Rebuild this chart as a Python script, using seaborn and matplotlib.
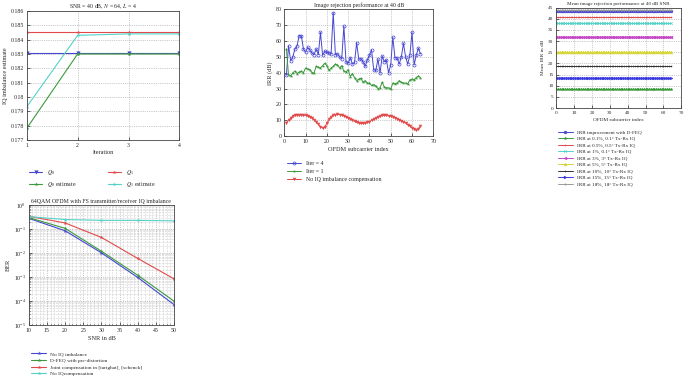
import matplotlib
matplotlib.use('Agg')
import matplotlib.pyplot as plt
import seaborn as sns
from matplotlib.ticker import MultipleLocator, FuncFormatter, LogLocator, NullFormatter

# ---- panel 1: IQ imbalance estimate per iteration
iterations = [1, 2, 3, 4]
q0 = [0.1831, 0.1831, 0.1831, 0.1831]
q1 = [0.1845, 0.1845, 0.1845, 0.1845]
q0_est = [0.1778, 0.1830, 0.1830, 0.1830]
q1_est = [0.1793, 0.1843, 0.1844, 0.1844]

# ---- panel 2: BER vs SNR
snr_db = [10, 20, 30, 40, 50]
ber_no_imb = [0.28, 0.085, 0.0103, 0.00097, 0.000072]
ber_dfeq = [0.30, 0.107, 0.012, 0.0012, 0.0001]
ber_joint = [0.34, 0.18, 0.045, 0.006, 0.00085]
ber_no_comp = [0.33, 0.25, 0.23, 0.23, 0.22]

# ---- panel 3: IRR per subcarrier at 40 dB
subcarrier = list(range(1, 65))
irr_iter4 = [38.5, 57, 47.5, 50, 55, 57, 63.5, 63.5, 55, 53,
             56, 54.5, 52.5, 51.5, 55, 51.5, 65.5, 51, 53.5, 53,
             52.5, 52, 78, 51.5, 52, 50, 49, 69.5, 47, 46,
             49.5, 45.5, 46.5, 59, 48.5, 49, 47, 44, 48, 51,
             54.5, 42, 41.5, 48.5, 40, 50.5, 47, 48, 40, 45,
             62.5, 49.5, 49.5, 45.5, 50, 58.5, 50, 45.5, 51, 65.5,
             45, 51, 55.5, 52]
irr_iter1 = [55, 38.5, 38, 40, 41, 39.5, 40.5, 41, 40, 43,
             42.5, 42, 40, 40, 44, 43.5, 43, 44.5, 46, 44.5,
             41.5, 43, 44, 45.5, 45, 43, 44.5, 41, 40.5, 42,
             37.5, 39.5, 37, 35, 36, 36.5, 34, 35, 33.5, 33.5,
             32, 32.5, 31.5, 30, 30.5, 34, 31, 30.5, 30.5, 29.5,
             33.5, 33, 33.5, 35, 34, 33.5, 33.5, 33, 35.5, 36,
             35.5, 37, 38, 37]
irr_no_comp = [8.5, 10, 11.5, 12.5, 13, 13.3, 13.4, 13.4, 13.2, 13,
               12.6, 12, 11.3, 10.3, 9, 7.5, 6, 5, 5.8, 8,
               10.5, 12.2, 13.2, 13.6, 13.7, 13.6, 13.3, 12.8, 12.2, 11.5,
               10.7, 10, 9.3, 8.7, 8.3, 8, 8, 8.2, 8.6, 9.2,
               10, 10.8, 11.6, 12.2, 12.7, 13, 13.1, 13, 12.8, 12.5,
               12.1, 11.6, 11, 10.4, 9.7, 9, 8.2, 7.3, 6.3, 5.3,
               4.4, 3.7, 4.5, 6.5]

# ---- panel 4: mean IRR per case at 40 dB
mean_idx = list(range(0, 65))
mean_labels = ['IRR improvement with D-FEQ',
               'IRR at 0.1%, 0.1° Tx-Rx IQ',
               'IRR at 0.5%, 0.5° Tx-Rx IQ',
               'IRR at 1%, 0.1° Tx-Rx IQ',
               'IRR at 3%, 3° Tx-Rx IQ',
               'IRR at 5%, 5° Tx-Rx IQ',
               'IRR at 10%, 10° Tx-Rx IQ',
               'IRR at 15%, 15° Tx-Rx IQ',
               'IRR at 18%, 18° Tx-Rx IQ']
mean_irr = [43.5, 8.5, 41, 38, 32, 25, 19, 13.5, 44]

BLUE, RED, GREEN, CYAN = '#4646d2', '#e04a4a', '#3c9a3c', '#52d2c8'
mean_colors = [BLUE, GREEN, RED, CYAN, '#c446c4', '#d6d63c', '#333333', '#3a3ae0', '#9a9a9a']
mean_markers = ['o', '*', '+', 'x', '<', '^', '+', '>', '.']

sns.set_style('ticks')
plt.rcParams['font.family'] = ['Liberation Serif', 'DejaVu Serif']
plt.rcParams['mathtext.fontset'] = 'stix'

fig = plt.figure(figsize=(6.85, 3.79), dpi=100)

def style_ax(ax, title, xlabel, ylabel, tsize=4.2, lsize=4.5, ksize=4.2):
    ax.set_title(title, fontsize=tsize, pad=1.5)
    ax.set_xlabel(xlabel, fontsize=lsize, labelpad=2)
    ax.set_ylabel(ylabel, fontsize=lsize, labelpad=2)
    ax.tick_params(labelsize=ksize, length=2, width=0.5, pad=2, direction='in')
    for s in ax.spines.values():
        s.set_linewidth(0.6)
        s.set_color('#444444')
    ax.grid(True, linestyle=':', linewidth=0.5, color='#999999')

lw = 0.8
ms = 3

# panel 1
ax1 = fig.add_axes([0.039, 0.631, 0.223, 0.340])
sns.lineplot(x=iterations, y=q0, ax=ax1, color=BLUE, marker='v', markersize=ms, linewidth=lw, markeredgewidth=0, label=r'$Q_0$')
sns.lineplot(x=iterations, y=q1, ax=ax1, color=RED, marker='*', markersize=ms, linewidth=lw, markeredgewidth=0, label=r'$Q_1$')
sns.lineplot(x=iterations, y=q0_est, ax=ax1, color=GREEN, marker='*', markersize=ms, linewidth=lw, markeredgewidth=0, label=r'$Q_0$ estimate')
sns.lineplot(x=iterations, y=q1_est, ax=ax1, color=CYAN, marker='*', markersize=ms, linewidth=lw, markeredgewidth=0, label=r'$Q_1$ estimate')
ax1.set_xlim(1, 4)
ax1.set_ylim(0.177, 0.186)
ax1.xaxis.set_major_locator(MultipleLocator(1))
ax1.yaxis.set_major_locator(MultipleLocator(0.001))
ax1.yaxis.set_major_formatter(FuncFormatter(lambda v, p: '%g' % round(v, 3)))
style_ax(ax1, r'SNR = 40 dB, $N$ = 64, $L$ = 4', 'Iteration', 'IQ imbalance estimate')
h, l = ax1.get_legend_handles_labels()
order = [0, 2, 1, 3]
ax1.legend([h[i] for i in order], [l[i] for i in order], loc='upper left', bbox_to_anchor=(0.0, -0.2),
           ncol=2, frameon=False, fontsize=4.2, columnspacing=5.3, handlelength=2.3,
           labelspacing=0.5, borderaxespad=0)

# panel 2
ax2 = fig.add_axes([0.042, 0.142, 0.212, 0.317])
sns.lineplot(x=snr_db, y=ber_no_imb, ax=ax2, color=BLUE, marker='*', markersize=ms, linewidth=lw, markeredgewidth=0, label='No IQ imbalance')
sns.lineplot(x=snr_db, y=ber_dfeq, ax=ax2, color=GREEN, marker='*', markersize=ms, linewidth=lw, markeredgewidth=0, label='D-FEQ with pre-distortion')
sns.lineplot(x=snr_db, y=ber_joint, ax=ax2, color=RED, marker='*', markersize=ms, linewidth=lw, markeredgewidth=0, label='Joint compensation in [tarighat], [schenck]')
sns.lineplot(x=snr_db, y=ber_no_comp, ax=ax2, color=CYAN, marker='*', markersize=ms, linewidth=lw, markeredgewidth=0, label='No IQcompensation')
ax2.set_yscale('log')
ax2.set_xlim(10, 50)
ax2.set_ylim(1e-5, 1)
ax2.xaxis.set_major_locator(MultipleLocator(5))
ax2.xaxis.set_minor_locator(MultipleLocator(1))
ax2.yaxis.set_major_locator(LogLocator(base=10, numticks=10))
ax2.yaxis.set_minor_locator(LogLocator(base=10, subs=range(2, 10), numticks=20))
ax2.yaxis.set_minor_formatter(NullFormatter())
style_ax(ax2, '64QAM OFDM with FS transmitter/receiver IQ imbalance', 'SNR in dB', 'BER')
ax2.grid(True, which='minor', linestyle=':', linewidth=0.4, color='#aaaaaa')
ax2.tick_params(which='minor', length=1, direction='in')
ax2.legend(loc='upper left', bbox_to_anchor=(0.0, -0.2), ncol=1, frameon=False, fontsize=3.9,
           handlelength=2.8, labelspacing=0.35, borderaxespad=0)

# panel 3
ax3 = fig.add_axes([0.415, 0.641, 0.2175, 0.334])
sns.lineplot(x=subcarrier, y=irr_iter4, ax=ax3, color=BLUE, marker='o', markersize=2.2, linewidth=0.7,
             markerfacecolor='none', markeredgecolor=BLUE, markeredgewidth=0.5, label='Iter = 4')
sns.lineplot(x=subcarrier, y=irr_iter1, ax=ax3, color=GREEN, marker='*', markersize=2.5, linewidth=0.7,
             markeredgewidth=0, label='Iter = 1')
sns.lineplot(x=subcarrier, y=irr_no_comp, ax=ax3, color=RED, marker='v', markersize=2.5, linewidth=0.7,
             markeredgewidth=0, label='No IQ imbalance compensation')
ax3.set_xlim(0, 70)
ax3.set_ylim(0, 80)
ax3.xaxis.set_major_locator(MultipleLocator(10))
ax3.yaxis.set_major_locator(MultipleLocator(10))
style_ax(ax3, 'Image rejection performance at 40 dB', 'OFDM subcarrier index', 'IRR (dB)')
ax3.legend(loc='upper left', bbox_to_anchor=(0.0, -0.18), ncol=1, frameon=False, fontsize=4.2,
           handlelength=2.5, labelspacing=0.45, borderaxespad=0)

# panel 4
ax4 = fig.add_axes([0.812, 0.715, 0.1825, 0.265])
for lab, lev, col, mk in zip(mean_labels, mean_irr, mean_colors, mean_markers):
    sns.lineplot(x=mean_idx, y=[lev] * len(mean_idx), ax=ax4, color=col, marker=mk, markersize=2,
                 linewidth=0.7, markeredgewidth=0.4, markeredgecolor=col, label=lab)
ax4.set_xlim(0, 70)
ax4.set_ylim(0, 45)
ax4.xaxis.set_major_locator(MultipleLocator(10))
ax4.yaxis.set_major_locator(MultipleLocator(5))
style_ax(ax4, 'Mean image rejection performance at 40 dB SNR', 'OFDM subcarrier index', 'Mean IRR in dB',
         tsize=3.7, lsize=3.8, ksize=3.8)
ax4.legend(loc='upper left', bbox_to_anchor=(0.0, -0.2), ncol=1, frameon=False, fontsize=3.7,
           handlelength=2.8, labelspacing=0.35, borderaxespad=0)

fig.savefig('out.png', dpi=100)
